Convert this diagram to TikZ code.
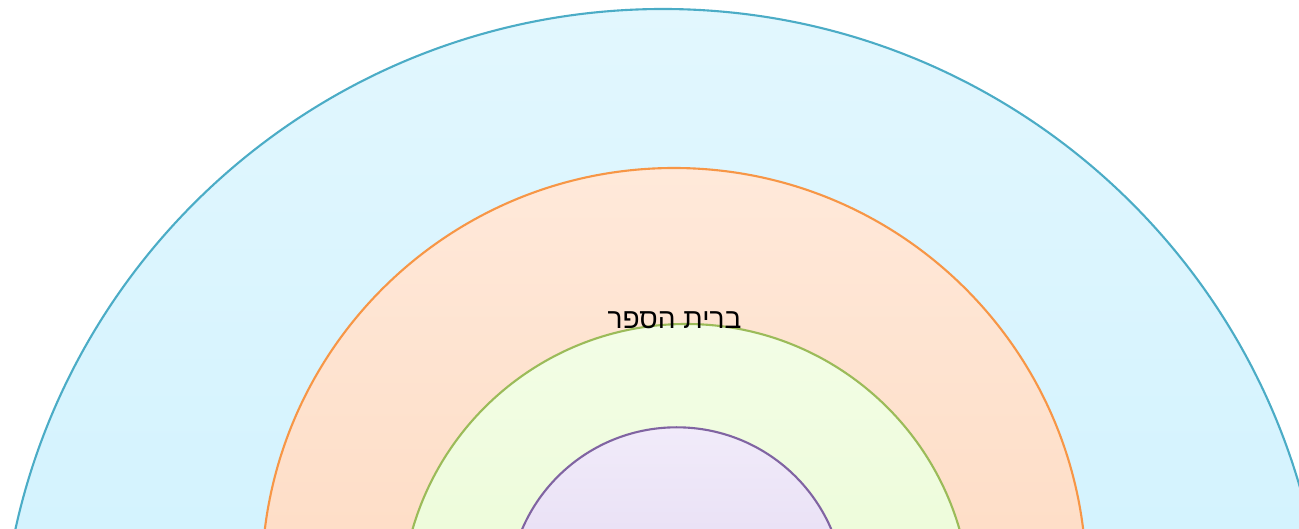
\documentclass[tikz,border=0pt]{standalone}
\usepackage{fontspec}
\newfontfamily\hebfont[Script=Hebrew]{Liberation Sans}
\TeXXeTstate=1
\usetikzlibrary{positioning}
\definecolor{blueline}{HTML}{4BACC6}\definecolor{orangeline}{HTML}{F79646}
\definecolor{greenline}{HTML}{9BBB59}\definecolor{purpleline}{HTML}{8064A2}

\begin{document}
\begin{tikzpicture}[x=0.02cm,y=0.02cm,ring/.style={line width=1.2pt},lab/.style={font=\hebfont\fontsize{16}{18}\selectfont}]
\useasboundingbox[clip] (0,0) rectangle (1299,528);
\shade[ring,draw=blueline,top color={rgb,255:red,226;green,247;blue,254},bottom color={rgb,255:red,190;green,236;blue,255}] (663,-144) circle[radius=663];
\shade[ring,draw=orangeline,top color={rgb,255:red,255;green,233;blue,218},bottom color={rgb,255:red,252;green,208;blue,176}] (674,-52.3) circle[radius=412.3];
\shade[ring,draw=greenline,top color={rgb,255:red,243;green,253;blue,230},bottom color={rgb,255:red,228;green,250;blue,200}] (686,-80.7) circle[radius=284.7];
\shade[ring,draw=purpleline,top color={rgb,255:red,241;green,235;blue,250},bottom color={rgb,255:red,218;green,205;blue,236}] (676.7,-67.4) circle[radius=168.1];
\node[lab] (school) at (674.5,207.5) {\beginR ברית הספר\endR};
\end{tikzpicture}
\end{document}
